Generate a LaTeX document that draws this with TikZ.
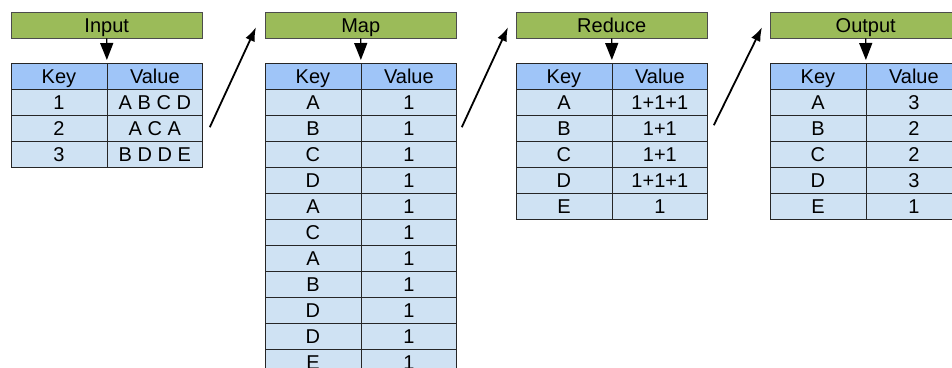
\documentclass[tikz,border=0pt]{standalone}
\usepackage{fontspec}
\setmainfont{Liberation Sans}
\usetikzlibrary{positioning,arrows.meta}

\definecolor{stagegreen}{RGB}{155,187,89}
\definecolor{headblue}{RGB}{159,197,248}
\definecolor{rowblue}{RGB}{207,226,243}

\tikzset{
  txt/.style={font=\fontsize{20}{22}\selectfont, text height=14.3pt, text depth=0pt},
  stage/.style={txt, draw=black!70, fill=stagegreen, minimum width=191pt, minimum height=26pt,
    inner sep=0pt, anchor=north west},
  colhead/.style={txt, draw=black!85, fill=headblue, minimum width=95.5pt, minimum height=26pt,
    inner sep=0pt},
  cell/.style={colhead, fill=rowblue},
  feed/.style={-{Triangle[length=17pt,width=13pt]}, line width=1.4pt, shorten >=3pt},
  flow/.style={-{Latex[length=14pt,width=10pt]}, line width=1.8pt}
}

\begin{document}
\begin{tikzpicture}[x=1pt, y=-1pt]
    \useasboundingbox (0,0) rectangle (952,367);
    \clip (0,0) rectangle (952,367);

    % --- Input ---
    \node[stage] (in) at (11,12) {Input};
    \node[colhead, anchor=north west] (in-k0) at (11,63) {Key};
    \node[colhead, right=0pt of in-k0] (in-v0) {Value};
    \foreach \k/\v [count=\i] in {1/A B C D, 2/A C A, 3/B D D E} {
        \node[cell, anchor=north west] (in-k\i) at (11,63+26*\i) {\k};
        \node[cell, right=0pt of in-k\i] (in-v\i) {\v};
    }
    \draw[feed] (in.south) -- (in-k0.north east);

    % --- Map ---
    \node[stage] (map) at (265,12) {Map};
    \node[colhead, anchor=north west] (map-k0) at (265,63) {Key};
    \node[colhead, right=0pt of map-k0] (map-v0) {Value};
    \foreach \k [count=\i] in {A,B,C,D,A,C,A,B,D,D,E} {
        \node[cell, anchor=north west] (map-k\i) at (265,63+26*\i) {\k};
        \node[cell, right=0pt of map-k\i] (map-v\i) {1};
    }
    \draw[feed] (map.south) -- (map-k0.north east);

    % --- Reduce ---
    \node[stage] (red) at (516,12) {Reduce};
    \node[colhead, anchor=north west] (red-k0) at (516,63) {Key};
    \node[colhead, right=0pt of red-k0] (red-v0) {Value};
    \foreach \k/\v [count=\i] in {A/1+1+1, B/1+1, C/1+1, D/1+1+1, E/1} {
        \node[cell, anchor=north west] (red-k\i) at (516,63+26*\i) {\k};
        \node[cell, right=0pt of red-k\i] (red-v\i) {\v};
    }
    \draw[feed] (red.south) -- (red-k0.north east);

    % --- Output ---
    \node[stage] (out) at (770,12) {Output};
    \node[colhead, anchor=north west] (out-k0) at (770,63) {Key};
    \node[colhead, right=0pt of out-k0] (out-v0) {Value};
    \foreach \k/\v [count=\i] in {A/3, B/2, C/2, D/3, E/1} {
        \node[cell, anchor=north west] (out-k\i) at (770,63+26*\i) {\k};
        \node[cell, right=0pt of out-k\i] (out-v\i) {\v};
    }
    \draw[feed] (out.south) -- (out-k0.north east);

    % stage to stage
    \draw[flow] ([xshift=7pt,yshift=1pt]in-v2.east) -- ([xshift=-9pt,yshift=-2pt]map.west);
    \draw[flow] ([xshift=5pt,yshift=1pt]map-v2.east) -- ([xshift=-8pt,yshift=-2pt]red.west);
    \draw[flow] ([xshift=6pt,yshift=3pt]red-v2.east) -- ([xshift=-8pt,yshift=-2pt]out.west);

\end{tikzpicture}
\end{document}
